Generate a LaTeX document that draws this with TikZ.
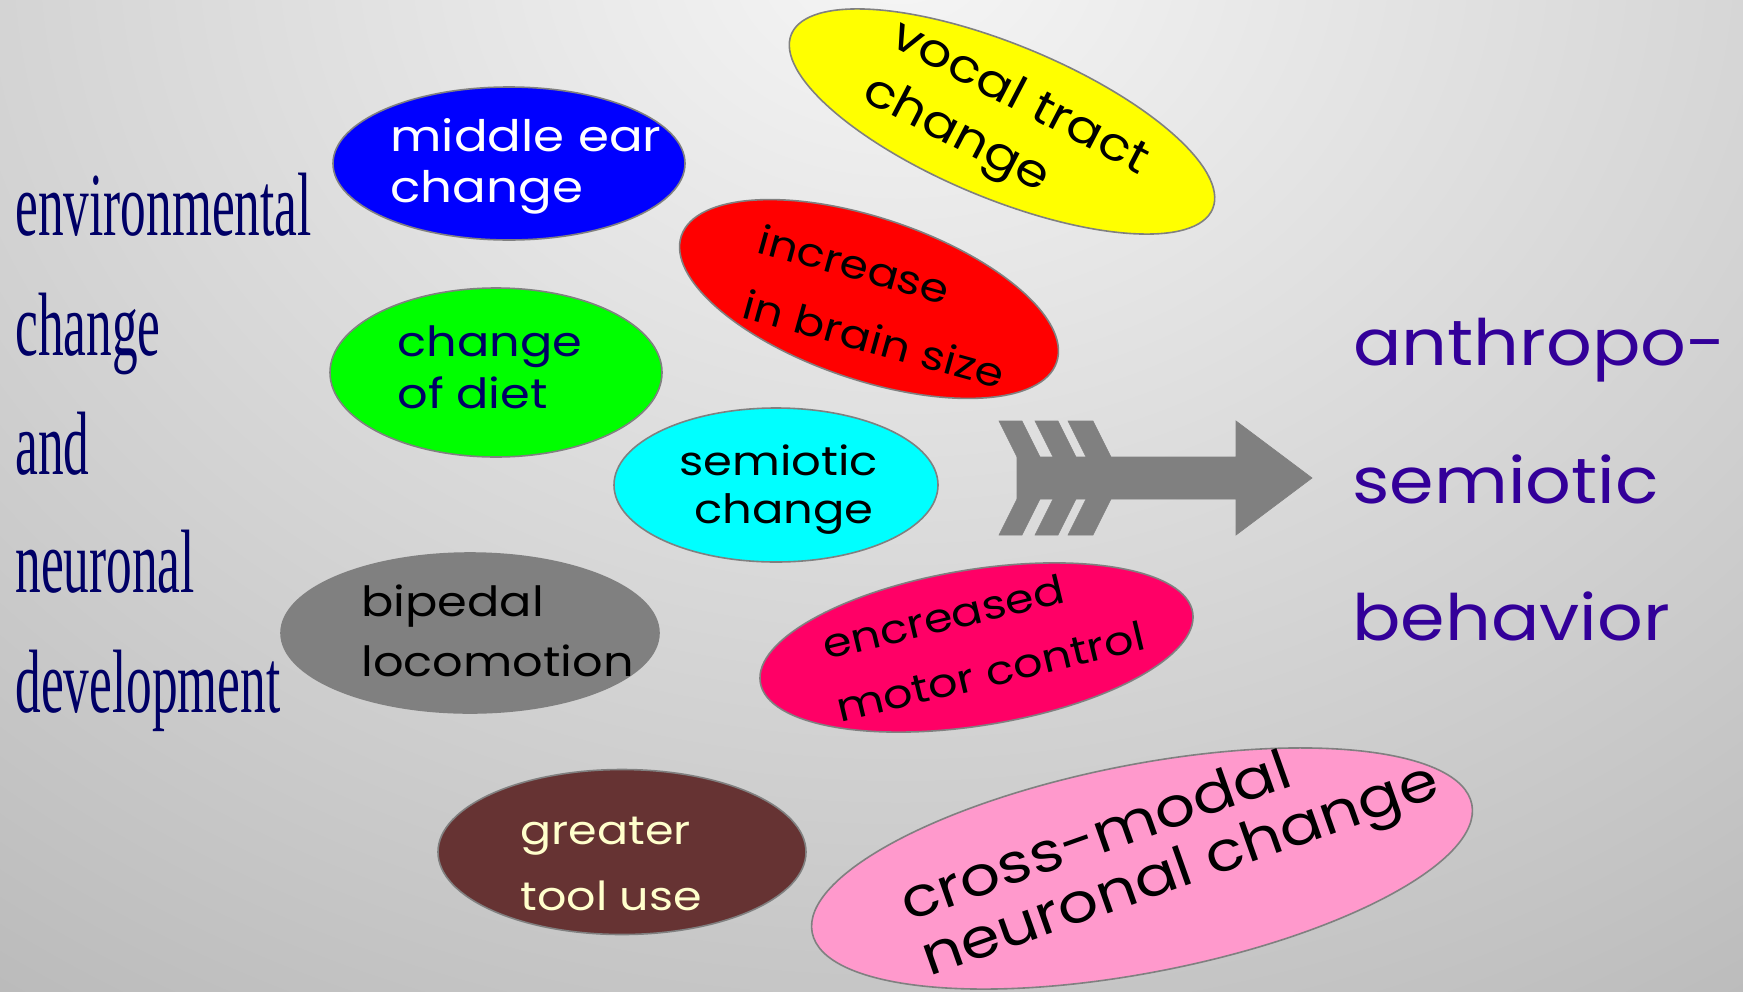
\documentclass[tikz,border=0pt]{standalone}
\usepackage{fontspec}
\usetikzlibrary{shapes.geometric}
\newfontfamily\gothic[FakeStretch=1.15]{Poppins}
\newfontfamily\handw[FakeStretch=1.12]{Poppins}
\newfontfamily\condserif[FakeStretch=0.57]{Liberation Serif}
\definecolor{navy}{HTML}{000066}
\definecolor{hand}{HTML}{330099}
\definecolor{rim}{HTML}{808080}
\definecolor{bgin}{HTML}{F6F6F6}
\definecolor{bgout}{HTML}{909090}
\definecolor{cYellow}{HTML}{FFFF00}
\definecolor{cBlue}{HTML}{0000FF}
\definecolor{cRed}{HTML}{FF0000}
\definecolor{cGreen}{HTML}{00FF00}
\definecolor{cCyan}{HTML}{00FFFF}
\definecolor{cGray}{HTML}{808080}
\definecolor{cMagenta}{HTML}{FF0066}
\definecolor{cBrown}{HTML}{663333}
\definecolor{cPink}{HTML}{FF99CC}
\definecolor{cCream}{HTML}{FFFFCC}
\definecolor{arrowgray}{HTML}{808080}
\tikzset{
  blob/.style={ellipse, draw=rim, line width=0.8pt, inner sep=0pt},
  lbl/.style={anchor=base west, inner sep=0pt, font={\gothic\fontsize{#1}{#1}\selectfont}},
  lbl/.default=20.5,
  lblc/.style={lbl=#1, anchor=base},
  lblc/.default=20.5,
  leftword/.style={anchor=base west, inner sep=0pt, text=navy, font={\condserif\fontsize{45}{50}\selectfont}},
  handword/.style={anchor=base west, inner sep=0pt, text=hand, font={\handw\fontsize{32}{40}\selectfont}},
  arrowpart/.style={fill=arrowgray, draw=arrowgray, line width=0.3pt}
}
\begin{document}
\begin{tikzpicture}[x=0.5pt,y=-0.5pt]
\useasboundingbox (0,0) rectangle (1743,991);
\begin{scope}
  \clip (0,0) rectangle (1743,991);
  \shade[inner color=bgin, outer color=bgout] (-1800,-2250) rectangle (3600,2150);
\end{scope}

% ellipses
\node[blob, fill=cYellow, minimum width=228pt, minimum height=77pt, rotate=-22.5] (vocal) at (1002,121.5) {};
\node[blob, fill=cBlue, minimum width=176pt, minimum height=76.5pt] (ear) at (509,163.5) {};
\node[blob, fill=cRed, minimum width=198pt, minimum height=81pt, rotate=-18.6] (brain) at (869,299) {};
\node[blob, fill=cGreen, minimum width=166pt, minimum height=84.5pt] (diet) at (496,372.5) {};
\node[blob, fill=cCyan, minimum width=162pt, minimum height=77pt] (semio) at (776,485) {};
\node[blob, fill=cGray, draw=cGray, minimum width=189pt, minimum height=80pt] (biped) at (470,633) {};
\node[blob, fill=cMagenta, minimum width=219pt, minimum height=78pt, rotate=9.2] (motor) at (976.5,647.5) {};
\node[blob, fill=cBrown, minimum width=184pt, minimum height=82.5pt] (tool) at (622,852) {};
\node[blob, fill=cPink, minimum width=336pt, minimum height=104pt, rotate=11] (cross) at (1142,868.5) {};

% texts in ellipses
\node[lbl=22.9, rotate=-27.5] (vocalA) at (888,44) {vocal tract};
\node[lbl=22.9, rotate=-27.5] (vocalB) at (860,99) {change};
\node[lbl=21.7, text=white] (earA) at (390,151) {middle ear};
\node[lbl=21.7, text=white] (earB) at (390,202) {change};
\node[lbl=19.9, rotate=-15.5] (brainA) at (755,252) {increase};
\node[lbl=19.9, rotate=-15.5] (brainB) at (740,317) {in brain size};
\node[lbl=20.8, text=navy] (dietA) at (397,356) {change};
\node[lbl=20.8, text=navy] (dietB) at (397,408) {of diet};
\node[lblc=20.2] (semioA) at (778.5,475) {semiotic};
\node[lblc=20.2] (semioB) at (784,523) {change};
\node[lbl=20.8] (bipedA) at (361,616) {bipedal};
\node[lbl=20.8] (bipedB) at (361,676) {locomotion};
\node[lbl=20.1, rotate=13.5] (motorA) at (826,660) {encreased};
\node[lbl=20.1, rotate=13.5] (motorB) at (840,723) {motor control};
\node[lbl=20, text=cCream] (toolA) at (520,844) {greater};
\node[lbl=20, text=cCream] (toolB) at (520,910) {tool use};
\node[lbl=27.5, rotate=19.5] (crossA) at (908,922) {cross-modal};
\node[lbl=27.5, rotate=19.5] (crossB) at (929,977) {neuronal change};

% left column
\node[leftword] (w1) at (15,235) {environmental};
\node[leftword] (w2) at (15,355) {change};
\node[leftword] (w3) at (15,474) {and};
\node[leftword] (w4) at (15,592) {neuronal};
\node[leftword] (w5) at (15,712) {development};

% right column
\node[handword] (h1) at (1353,365) {anthropo-};
\node[handword] (h2) at (1352,503) {semiotic};
\node[handword] (h3) at (1352,640) {behavior};

% arrow
\fill[arrowpart] (1017,457) -- (1236,457) -- (1236,421) -- (1312,478) -- (1236,535) -- (1236,499) -- (1017,499) -- cycle;
\fill[arrowpart] (999,421) -- (1022,421) -- (1040,457) -- (1017,457) -- cycle;
\fill[arrowpart] (1035,421) -- (1058,421) -- (1076,457) -- (1053,457) -- cycle;
\fill[arrowpart] (1068,421) -- (1093,421) -- (1111,457) -- (1086,457) -- cycle;
\fill[arrowpart] (999,535) -- (1022,535) -- (1040,499) -- (1017,499) -- cycle;
\fill[arrowpart] (1035,535) -- (1058,535) -- (1076,499) -- (1053,499) -- cycle;
\fill[arrowpart] (1068,535) -- (1093,535) -- (1111,499) -- (1086,499) -- cycle;
\end{tikzpicture}
\end{document}
